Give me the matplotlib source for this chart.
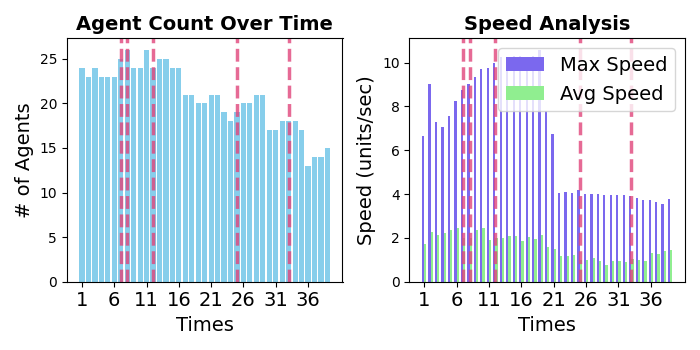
import numpy as np
import matplotlib
matplotlib.use("Agg")
import matplotlib.pyplot as plt

# data
times = np.arange(1, 40)
agent_counts = [24, 23, 24, 23, 23, 23, 25, 26, 24, 24, 26, 24, 25, 25, 24, 24,
                21, 21, 20, 20, 21, 21, 19, 18, 19, 20, 20, 21, 21, 17, 17, 18,
                18, 18, 17, 13, 14, 14, 15]
max_speed = [6.64, 9.02, 7.29, 7.05, 7.55, 8.24, 8.74, 9.02, 9.33, 9.70, 9.74,
             9.97, 10.26, 9.8, 10.28, 10.28, 9.8, 10.28, 10.58, 7.8, 6.73,
             4.06, 4.09, 4.04, 4.18, 4.00, 4.00, 4.00, 3.97, 3.95, 3.95, 3.95,
             3.92, 3.83, 3.72, 3.72, 3.63, 3.54, 3.77]
avg_speed = [1.72, 2.27, 2.13, 2.22, 2.36, 2.45, 2.0, 2.0, 2.36, 2.45, 1.90,
             2.0, 2.0, 2.1, 2.1, 1.86, 2.04, 1.95, 2.13, 1.58, 1.49, 1.17,
             1.17, 1.22, 0.99, 0.99, 1.08, 0.94, 0.76, 0.94, 0.94, 0.90, 1.04,
             0.99, 0.94, 1.31, 1.26, 1.40, 1.45]
events = [7, 8, 12, 25, 33]
tick_pos = np.arange(1, 40, 5)

fig, (ax1, ax2) = plt.subplots(1, 2, figsize=(7, 3.5), dpi=100)

ax1.bar(times, agent_counts, color="skyblue")
for e in events:
    ax1.axvline(e, color="#e0457b", linestyle="--", linewidth=2.5, alpha=0.8)
ax1.set_title("Agent Count Over Time", fontsize=14, fontweight="bold")
ax1.set_xlabel("Times", fontsize=14)
ax1.set_ylabel("# of Agents", fontsize=14)
ax1.set_xticks(tick_pos)
ax1.tick_params(axis="x", labelsize=14)

w = 0.35
ax2.bar(times - w / 2, max_speed, w, color="mediumslateblue", label="Max Speed")
ax2.bar(times + w / 2, avg_speed, w, color="lightgreen", label="Avg Speed")
for e in events:
    ax2.axvline(e, color="#e0457b", linestyle="--", linewidth=2.5, alpha=0.8)
ax2.set_title("Speed Analysis", fontsize=14, fontweight="bold")
ax2.set_xlabel("Times", fontsize=14)
ax2.set_ylabel("Speed (units/sec)", fontsize=14)
ax2.set_xticks(tick_pos)
ax2.tick_params(axis="x", labelsize=14)
ax2.legend(loc="upper right", fontsize=14)

plt.tight_layout()
plt.savefig("out.png", dpi=100)
plt.close()
